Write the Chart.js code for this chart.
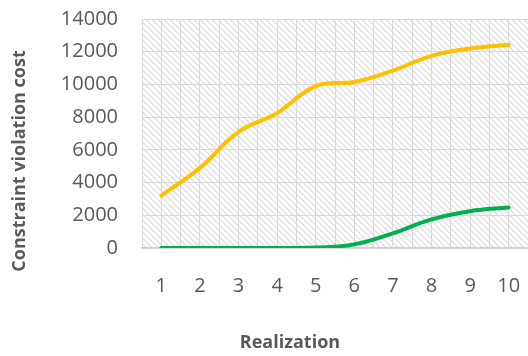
<!DOCTYPE html>
<html>
<head>
<meta charset="utf-8">
<script src="https://cdn.jsdelivr.net/npm/chart.js"></script>
<style>
    html, body { margin: 0; padding: 0; background: #ffffff; }
    #wrap { width: 528px; height: 356px; position: relative; }
</style>
</head>
<body>
<div id="wrap"><canvas id="chart"></canvas></div>
<script>
// Realization number on the x axis
const realizations = [1, 2, 3, 4, 5, 6, 7, 8, 9, 10];
// upper (yellow) and lower (green) series
const yellowCost = [3200, 4900, 7100, 8250, 9900, 10150, 10850, 11750, 12200, 12430];
const greenCost = [0, 0, 0, 0, 30, 220, 900, 1750, 2250, 2480];
const yTicks = [0, 2000, 4000, 6000, 8000, 10000, 12000, 14000];

const textColor = '#595959';
const gridColor = '#d9d9d9';

// hatched fill behind the plot, like the excel "wide downward diagonal" pattern
function makeHatch() {
    const c = document.createElement('canvas');
    c.width = 6;
    c.height = 6;
    const g = c.getContext('2d');
    g.fillStyle = '#ffffff';
    g.fillRect(0, 0, 6, 6);
    g.fillStyle = '#e3e3e3';
    for (let y = 0; y < 6; y++) {
        for (let x = 0; x < 6; x++) {
            const d = ((x - y) % 6 + 6) % 6;
            if (d === 0 || d === 1) g.fillRect(x, y, 1, 1);
        }
    }
    return c;
}

const hatchPlugin = {
    id: 'hatch',
    beforeDraw(chart) {
        const { ctx, chartArea } = chart;
        ctx.save();
        ctx.fillStyle = ctx.createPattern(makeHatch(), 'repeat');
        ctx.fillRect(chartArea.left, chartArea.top, chartArea.right - chartArea.left, chartArea.bottom - chartArea.top);
        ctx.restore();
    }
};

// axis titles drawn by hand so they sit where the reference has them
const titlesPlugin = {
    id: 'titles',
    afterDraw(chart) {
        const ctx = chart.ctx;
        ctx.save();
        ctx.fillStyle = textColor;
        ctx.textAlign = 'center';
        ctx.textBaseline = 'middle';
        ctx.font = 'bold 18px "Open Sans"';
        ctx.fillText('Realization', 290, 343);
        ctx.translate(20, 161);
        ctx.rotate(-Math.PI / 2);
        ctx.font = 'bold 18px "Open Sans"';
        ctx.fillText('Constraint violation cost', 0, 0);
        ctx.restore();
    }
};

// drop the extra room chart.js keeps for overhanging labels
function noPad(scale) {
    scale.paddingLeft = 0;
    scale.paddingRight = 0;
    scale.paddingTop = 0;
    scale.paddingBottom = 0;
}

new Chart(document.getElementById('chart'), {
    type: 'line',
    data: {
        datasets: [
            {
                data: realizations.map((r, i) => ({ x: r, y: yellowCost[i] })),
                borderColor: '#ffc000',
                borderWidth: 4,
                borderCapStyle: 'round',
                pointRadius: 0,
                tension: 0.4,
                fill: false
            },
            {
                data: realizations.map((r, i) => ({ x: r, y: greenCost[i] })),
                borderColor: '#00b050',
                borderWidth: 4,
                borderCapStyle: 'round',
                pointRadius: 0,
                tension: 0.4,
                fill: false
            }
        ]
    },
    options: {
        responsive: true,
        maintainAspectRatio: false,
        animation: false,
        layout: { padding: { top: 19, right: 0, left: 0, bottom: 0 } },
        plugins: {
            legend: { display: false },
            tooltip: { enabled: false }
        },
        scales: {
            x: {
                type: 'linear',
                min: 0.5,
                max: 10.5,
                afterFit: (scale) => { scale.height = 108; noPad(scale); },
                afterBuildTicks: (scale) => {
                    const t = [];
                    for (let v = 0.5; v <= 10.5; v += 0.5) t.push({ value: v });
                    scale.ticks = t;
                },
                ticks: {
                    autoSkip: false,
                    maxRotation: 0,
                    padding: 26,
                    color: textColor,
                    font: { family: 'Open Sans', size: 20 },
                    callback: (v) => realizations.includes(v) ? String(v) : ''
                },
                grid: { color: gridColor, lineWidth: 1, drawTicks: false },
                border: { color: '#d0d0d0', width: 1.5 }
            },
            y: {
                min: 0,
                max: 14000,
                afterFit: (scale) => { scale.width = 142; noPad(scale); },
                afterBuildTicks: (scale) => { scale.ticks = yTicks.map(v => ({ value: v })); },
                ticks: {
                    padding: 24,
                    color: textColor,
                    font: { family: 'Open Sans', size: 20 },
                    callback: (v) => String(v)
                },
                grid: { color: gridColor, lineWidth: 1, drawTicks: false },
                border: { display: false }
            }
        }
    },
    plugins: [hatchPlugin, titlesPlugin]
});
</script>
</body>
</html>
